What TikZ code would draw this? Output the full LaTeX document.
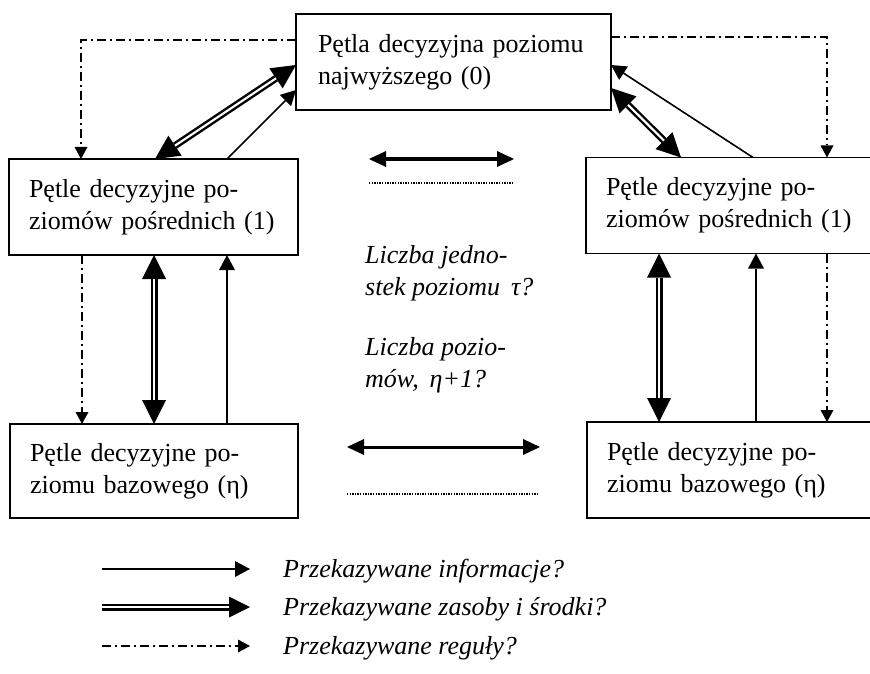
\documentclass[tikz,border=0pt]{standalone}
\usepackage{fontspec}
\setmainfont{Liberation Serif}
\usetikzlibrary{arrows.meta,calc}
\newcommand\boxfnt{\fontsize{26}{32}\selectfont}
\newcommand\resarrow[3][]{%
  \draw[line width=7pt,#1] (#2) -- (#3);
  \draw[white,line width=2.2pt,shorten <=24pt,shorten >=24pt] (#2) -- (#3);}
\tikzset{
  box/.style={draw,line width=1.8pt,outer sep=0pt,inner xsep=20pt,inner ysep=0pt,
    align=left,minimum height=96pt,font=\boxfnt},
  info/.style={line width=1.6pt,-{Triangle[length=15pt,width=16pt,line width=0pt]}},
  rulearrow/.style={line width=1.6pt,dash pattern=on 9pt off 4pt on 2pt off 4pt,
    -{Triangle[length=12pt,width=13pt,line width=0pt]}},
  bigtips/.style={{Triangle[length=24pt,width=24pt,line width=0pt]}-{Triangle[length=24pt,width=24pt,line width=0pt]}},
  twoway/.style={line width=3pt,{Triangle[length=17pt,width=16pt,line width=0pt]}-{Triangle[length=17pt,width=16pt,line width=0pt]}},
  dotline/.style={line width=1.6pt,dash pattern=on 1.4pt off 1.2pt},
  itx/.style={font=\boxfnt\itshape,align=left,inner sep=0pt}
}
\begin{document}
\begin{tikzpicture}[x=1pt,y=-1pt]
\useasboundingbox (0,0) rectangle (870,674);
\fill[white] (0,0) rectangle (870,674);
\clip (0,0) rectangle (870,674);

% boxes
\node[box,text width=271pt,inner xsep=22pt] (T) at (453.5,62) {Pętla decyzyjna poziomu\\najwyższego (0)};
\node[box,text width=249pt] (L1) at (153.5,207) {Pętle decyzyjne po-\\ziomów pośrednich (1)};
\node[box,text width=249pt] (R1) at (730.5,205.5) {Pętle decyzyjne po-\\ziomów pośrednich (1)};
\node[box,text width=248pt,minimum height=94pt] (L2) at (154,471) {Pętle decyzyjne po-\\ziomu bazowego (η)};
\node[box,text width=249pt] (R2) at (731.5,470) {Pętle decyzyjne po-\\ziomu bazowego (η)};

% anchor points
\coordinate (tl1) at ($(T.north west)+(0,26)$);
\coordinate (tl2) at ($(T.north west)+(0,51)$);
\coordinate (tl3) at ($(T.north west)+(0,76)$);
\coordinate (tr1) at ($(T.north east)+(0,23)$);
\coordinate (tr2) at ($(T.north east)+(0,51)$);
\coordinate (tr3) at ($(T.north east)+(0,74)$);
\coordinate (l1a) at ($(L1.north west)+(72,0)$);
\coordinate (l1b) at ($(L1.north west)+(146,0)$);
\coordinate (l1c) at ($(L1.north west)+(218,0)$);
\coordinate (r1a) at ($(R1.north west)+(95,0)$);
\coordinate (r1b) at ($(R1.north west)+(167,0)$);
\coordinate (r1c) at ($(R1.north west)+(241,0)$);
\coordinate (l1s1) at ($(L1.south west)+(73,0)$);
\coordinate (l1s2) at ($(L1.south west)+(145,0)$);
\coordinate (l1s3) at ($(L1.south west)+(218,0)$);
\coordinate (r1s1) at ($(R1.south west)+(73,0)$);
\coordinate (r1s2) at ($(R1.south west)+(170,0)$);
\coordinate (r1s3) at ($(R1.south west)+(241,0)$);

% top connections
\draw[rulearrow] (tl1) -| (l1a);
\draw[rulearrow] (tr1) -| (r1c);
\resarrow[bigtips]{l1b}{tl2}
\draw[info] (l1c) -- (tl3);
\resarrow[bigtips]{r1a}{tr3}
\draw[info] (r1b) -- (tr2);

% vertical connections
\draw[rulearrow] (l1s1) -- (l1s1 |- L2.north);
\resarrow[bigtips]{l1s2}{l1s2 |- L2.north}
\draw[info] (l1s3 |- L2.north) -- (l1s3);
\resarrow[bigtips]{r1s1}{r1s1 |- R2.north}
\draw[info] (r1s2 |- R2.north) -- (r1s2);
\draw[rulearrow] (r1s3) -- (r1s3 |- R2.north);

% middle arrows
\coordinate (m1a) at (369,159); \coordinate (m1b) at (514,159);
\coordinate (d1a) at (369,183); \coordinate (d1b) at (513,183);
\coordinate (m2a) at (347,447); \coordinate (m2b) at (540,447);
\coordinate (d2a) at (347,494); \coordinate (d2b) at (538,494);
\draw[twoway] (m1a) -- (m1b);
\draw[dotline] (d1a) -- (d1b);
\draw[twoway] (m2a) -- (m2b);
\draw[dotline] (d2a) -- (d2b);

% middle texts
\node[itx,anchor=north west] (q1) at (365,245) {Liczba jedno-\\stek poziomu \,τ?};
\node[itx,anchor=north west] (q2) at (365,337) {Liczba pozio-\\mów, \,η+1?};

% legend
\coordinate (la1) at (102,569); \coordinate (lb1) at (250,569);
\coordinate (la2) at (102,607); \coordinate (lb2) at (250,607);
\coordinate (la3) at (102,646); \coordinate (lb3) at (250,646);
\draw[info] (la1) -- (lb1);
\draw[line width=7pt,-{Triangle[length=21pt,width=21pt,line width=0pt]}] (la2) -- (lb2);
\draw[white,line width=2.2pt,shorten >=21pt] (la2) -- (lb2);
\draw[rulearrow] (la3) -- (lb3);
\node[itx,anchor=base west] (g1) at (283,577) {Przekazywane informacje?};
\node[itx,anchor=base west] (g2) at (283,615) {Przekazywane zasoby i środki?};
\node[itx,anchor=base west] (g3) at (283,654) {Przekazywane reguły?};
\end{tikzpicture}
\end{document}
